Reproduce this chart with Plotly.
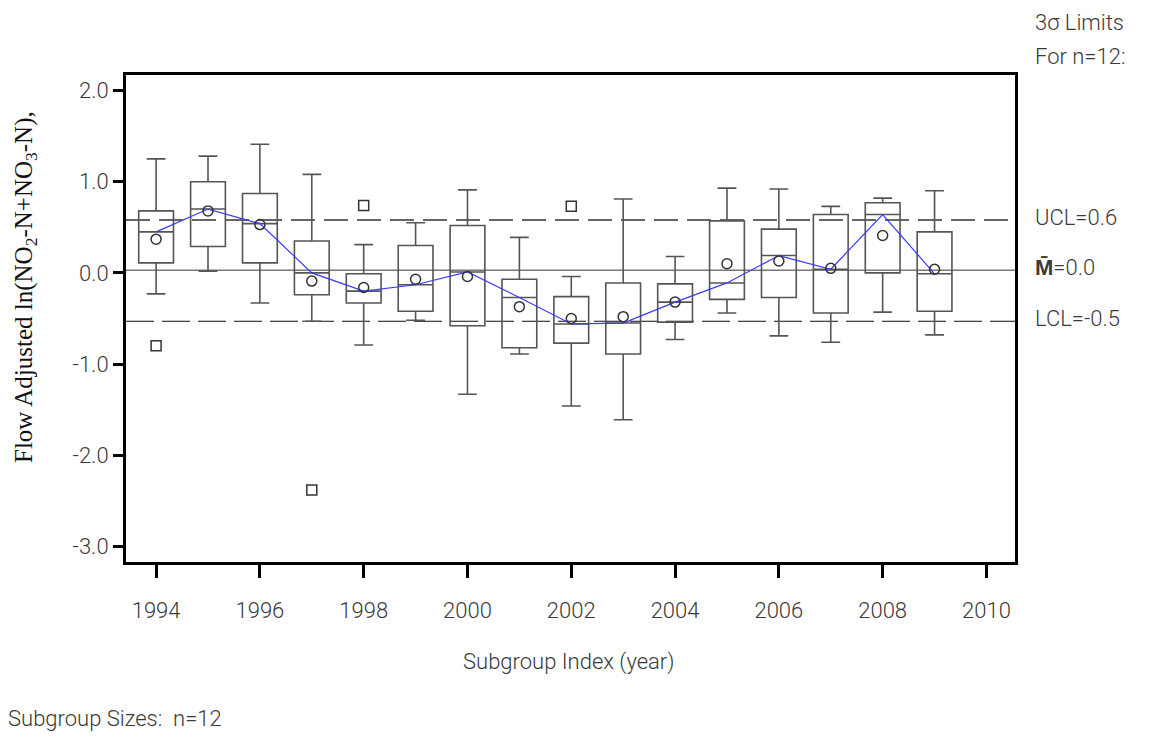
import plotly.graph_objects as go

# ---- data ----
years = [1994, 1995, 1996, 1997, 1998, 1999, 2000, 2001, 2002, 2003, 2004, 2005, 2006, 2007, 2008, 2009]
upper_whisker = [1.25, 1.28, 1.41, 1.08, 0.31, 0.55, 0.91, 0.39, -0.04, 0.81, 0.18, 0.93, 0.92, 0.73, 0.82, 0.90]
q3 = [0.68, 1.00, 0.87, 0.35, -0.01, 0.30, 0.52, -0.07, -0.26, -0.11, -0.12, 0.57, 0.48, 0.64, 0.77, 0.45]
medians = [0.45, 0.70, 0.54, 0.00, -0.20, -0.13, 0.01, -0.27, -0.56, -0.55, -0.32, -0.11, 0.19, 0.04, 0.64, -0.01]
q1 = [0.11, 0.29, 0.11, -0.24, -0.33, -0.42, -0.58, -0.82, -0.77, -0.89, -0.54, -0.29, -0.27, -0.44, 0.00, -0.42]
lower_whisker = [-0.23, 0.02, -0.33, -0.53, -0.79, -0.52, -1.33, -0.89, -1.46, -1.61, -0.73, -0.44, -0.69, -0.76, -0.43, -0.68]
means = [0.37, 0.68, 0.53, -0.09, -0.16, -0.07, -0.04, -0.37, -0.50, -0.48, -0.32, 0.10, 0.13, 0.05, 0.41, 0.04]
outlier_years = [1994, 1997, 1998, 2002]
outlier_values = [-0.80, -2.38, 0.74, 0.73]
ucl, center, lcl = 0.58, 0.03, -0.53
ucl_label, center_label, lcl_label = "UCL=0.6", "<b>M̄</b>=0.0", "LCL=-0.5"
x_ticks = [1994, 1996, 1998, 2000, 2002, 2004, 2006, 2008, 2010]
y_ticks = [2.0, 1.0, 0.0, -1.0, -2.0, -3.0]
y_tick_labels = ["2.0", "1.0", "0.0", "-1.0", "-2.0", "-3.0"]

# page offset (default body margin) compensation
OFF = 8
W, H = 1161 - 2 * OFF, 740 - 2 * OFF
# plot-area edges in screen pixels
L, R, T, B = 126, 1015, 75, 562


def px(xp):
    return (xp - L) / (R - L)


def py(yp):
    return (B - yp) / (B - T)


SANS = "Roboto, Liberation Sans, sans-serif"
TXT = "#3a3a3a"
tick_font = dict(family=SANS, size=22, color=TXT, weight=300)
ann_font = dict(family=SANS, size=22, color=TXT, weight=300)

fig = go.Figure()

fig.add_trace(go.Box(
    x=years, q1=q1, median=medians, q3=q3,
    lowerfence=lower_whisker, upperfence=upper_whisker,
    width=0.67, whiskerwidth=0.54,
    line=dict(color="#555555", width=1.6),
    fillcolor="rgba(0,0,0,0)",
    boxpoints=False, showlegend=False, hoverinfo="skip",
))

fig.add_trace(go.Scatter(
    x=years, y=medians, mode="lines",
    line=dict(color="#3a3aff", width=1.2), showlegend=False, hoverinfo="skip",
))

fig.add_trace(go.Scatter(
    x=years, y=means, mode="markers",
    marker=dict(symbol="circle-open", size=10, color="#333333", line=dict(width=1.5)),
    showlegend=False, hoverinfo="skip",
))

fig.add_trace(go.Scatter(
    x=outlier_years, y=outlier_values, mode="markers",
    marker=dict(symbol="square-open", size=10, color="#333333", line=dict(width=1.5)),
    showlegend=False, hoverinfo="skip",
))

# control limit lines
fig.add_shape(type="line", xref="paper", x0=0, x1=1, y0=ucl, y1=ucl,
              line=dict(color="#666666", width=2, dash="24px,9px"), layer="below")
fig.add_shape(type="line", xref="paper", x0=0, x1=1, y0=center, y1=center,
              line=dict(color="#333333", width=1), layer="below")
fig.add_shape(type="line", xref="paper", x0=0, x1=1, y0=lcl, y1=lcl,
              line=dict(color="#111111", width=1.2, dash="28px,8px"), layer="below")

for val, lab in [(ucl, ucl_label), (center, center_label), (lcl, lcl_label)]:
    fig.add_annotation(x=px(1033), xref="paper", xanchor="left",
                       y=val, yref="y", yanchor="middle", yshift=3,
                       text=lab, showarrow=False, font=ann_font)

fig.add_annotation(x=px(1033), y=py(22), xref="paper", yref="paper", xanchor="left",
                   yanchor="middle", text="3σ Limits", showarrow=False, font=ann_font)
fig.add_annotation(x=px(1033), y=py(56), xref="paper", yref="paper", xanchor="left",
                   yanchor="middle", text="For n=12:", showarrow=False, font=ann_font)

fig.add_annotation(x=px(568), y=py(662), xref="paper", yref="paper", xanchor="center",
                   yanchor="middle", text="Subgroup Index (year)", showarrow=False, font=ann_font)
fig.add_annotation(x=px(6), y=py(718), xref="paper", yref="paper", xanchor="left",
                   yanchor="middle", text="Subgroup Sizes:  n=12", showarrow=False, font=ann_font)

fig.add_annotation(x=px(25), y=py(287), xref="paper", yref="paper", xanchor="center",
                   yanchor="middle", textangle=-90,
                   text="Flow Adjusted ln(NO<sub>2</sub>-N+NO<sub>3</sub>-N),",
                   showarrow=False,
                   font=dict(family="Liberation Serif, Times New Roman, serif", size=25, color="#111111"))

fig.update_xaxes(range=[1993.42, 2010.55], tickmode="array", tickvals=x_ticks,
                 ticktext=[str(v) for v in x_ticks],
                 ticks="outside", ticklen=13, tickwidth=3, tickcolor="black",
                 ticklabelstandoff=14,
                 showline=True, linewidth=3, linecolor="black", mirror=True,
                 showgrid=False, zeroline=False,
                 tickfont=tick_font)
fig.update_yaxes(range=[-3.17, 2.17], tickmode="array", tickvals=y_ticks,
                 ticktext=y_tick_labels,
                 ticks="outside", ticklen=10, tickwidth=3, tickcolor="black",
                 showline=True, linewidth=3, linecolor="black", mirror=True,
                 showgrid=False, zeroline=False,
                 tickfont=tick_font)

fig.update_layout(width=W, height=H, autosize=False,
                  margin=dict(l=L - OFF, r=W - (R - OFF), t=T - OFF, b=H - (B - OFF)),
                  plot_bgcolor="white", paper_bgcolor="white",
                  showlegend=False)

fig.write_html("out.html")
